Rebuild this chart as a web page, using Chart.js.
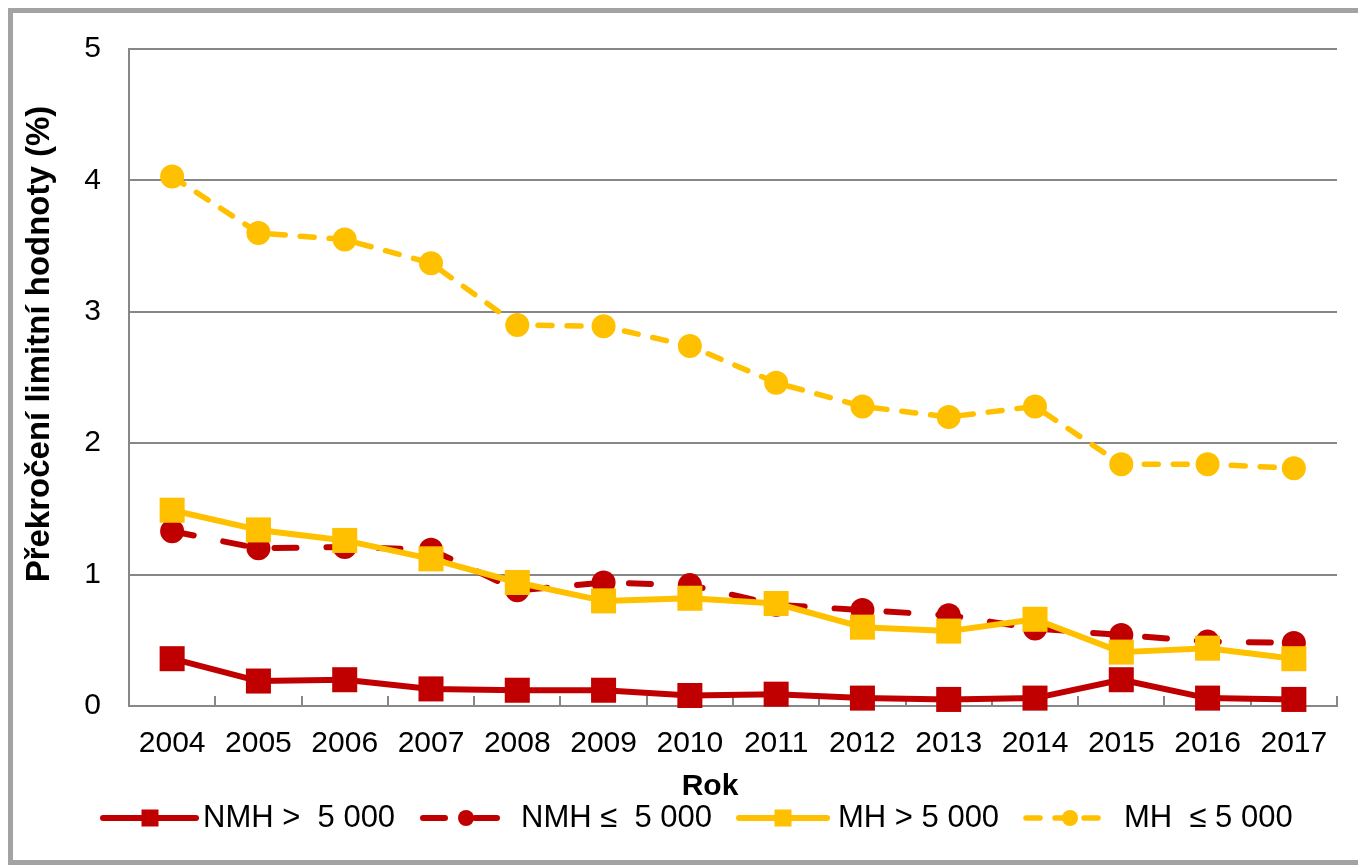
<!DOCTYPE html>
<html>
<head>
<meta charset="utf-8">
<script src="https://cdn.jsdelivr.net/npm/chart.js@4.4.0/dist/chart.umd.min.js"></script>
<style>
html,body{margin:0;padding:0;background:#fff;overflow:hidden}
#wrap{position:absolute;left:0;top:0;width:1358px;height:865px}
#frame{position:absolute;left:8px;top:8px;width:1400px;height:857px;border:5px solid #a3a3a3;border-right:none;box-sizing:border-box;pointer-events:none}
canvas{position:absolute;left:0;top:0}
</style>
</head>
<body>
<div id="wrap"><canvas id="c" width="1358" height="865"></canvas><div id="frame"></div></div>
<script>
const years = ['2004','2005','2006','2007','2008','2009','2010','2011','2012','2013','2014','2015','2016','2017'];
const nmhOver  = [0.36,0.19,0.20,0.13,0.12,0.12,0.08,0.09,0.06,0.05,0.06,0.20,0.06,0.05];
const nmhUnder = [1.33,1.20,1.21,1.19,0.88,0.94,0.92,0.77,0.73,0.69,0.59,0.54,0.49,0.48];
const mhOver   = [1.49,1.34,1.26,1.12,0.94,0.80,0.82,0.78,0.60,0.57,0.66,0.41,0.44,0.36];
const mhUnder  = [4.03,3.60,3.55,3.37,2.90,2.89,2.74,2.46,2.28,2.20,2.28,1.84,1.84,1.81];
const yTicks = [0,1,2,3,4,5];
const seriesNames = ['NMH >  5 000','NMH \u2264  5 000','MH > 5 000','MH  \u2264 5 000'];
const yTitle = 'Překročení limitní hodnoty (%)';
const xTitle = 'Rok';

const RED = '#C00000', YEL = '#FFC000', GRID = '#878787';
const FONT = '"Liberation Sans", Arial, sans-serif';

function ds(label, data, color, dashed, style, order) {
  return {
    label, data,
    borderColor: color, backgroundColor: color,
    pointBackgroundColor: color, pointBorderColor: color,
    borderWidth: dashed && color === YEL ? 5.5 : 6,
    borderDash: dashed ? (color === YEL ? [14, 15] : [22, 30]) : [],
    borderCapStyle: 'round', borderJoinStyle: 'round',
    pointStyle: style,
    pointRadius: style === 'rect' ? 17.7 : 12,
    pointHoverRadius: style === 'rect' ? 17.7 : 12,
    pointBorderWidth: 0,
    tension: 0, fill: false, clip: false, order
  };
}

const legendLayout = [
  {x0:103, x1:196, mx:150, tx:203},
  {x0:423, x1:498, mx:466, tx:521},
  {x0:739, x1:827, mx:783, tx:838},
  {x0:1026, x1:1101, mx:1070, tx:1124}
];

const overlay = {
  id: 'overlay',
  afterDraw(chart) {
    const ctx = chart.ctx;
    ctx.save();
    ctx.fillStyle = '#000';
    ctx.textAlign = 'center';
    ctx.textBaseline = 'middle';
    // y title
    ctx.save();
    ctx.translate(40, 344);
    ctx.rotate(-Math.PI / 2);
    ctx.font = 'bold 33px ' + FONT;
    ctx.fillText(yTitle, 0, 0);
    ctx.restore();
    // x title
    ctx.font = 'bold 30px ' + FONT;
    ctx.fillText(xTitle, 710, 787);
    // legend
    const ly = 818;
    chart.data.datasets.forEach((d, i) => {
      const L = legendLayout[i];
      ctx.save();
      ctx.strokeStyle = d.borderColor;
      ctx.lineWidth = d.borderWidth;
      ctx.lineCap = 'round';
      ctx.setLineDash(d.borderDash);
      ctx.beginPath();
      ctx.moveTo(L.x0, ly); ctx.lineTo(L.x1, ly);
      ctx.stroke();
      ctx.setLineDash([]);
      ctx.fillStyle = d.borderColor;
      if (d.pointStyle === 'rect') {
        ctx.fillRect(L.mx - 8.5, ly - 8.5, 17, 17);
      } else {
        ctx.beginPath(); ctx.arc(L.mx, ly, 8, 0, Math.PI * 2); ctx.fill();
      }
      ctx.restore();
      ctx.font = '31px ' + FONT;
      ctx.textAlign = 'left';
      ctx.fillStyle = '#000';
      ctx.fillText(d.label, L.tx, ly);
    });
    ctx.restore();
  }
};

new Chart(document.getElementById('c'), {
  type: 'line',
  data: {
    labels: years,
    datasets: [
      ds(seriesNames[0], nmhOver, RED, false, 'rect', 4),
      ds(seriesNames[1], nmhUnder, RED, true, 'circle', 3),
      ds(seriesNames[2], mhOver, YEL, false, 'rect', 2),
      ds(seriesNames[3], mhUnder, YEL, true, 'circle', 1)
    ]
  },
  options: {
    responsive: false, animation: false, devicePixelRatio: 1, events: [],
    layout: {padding: {left: 0, top: 49, right: 21, bottom: 49}},
    plugins: {legend: {display: false}, tooltip: {enabled: false}, title: {display: false}},
    scales: {
      x: {
        type: 'category', offset: true,
        grid: {offset: true, drawOnChartArea: false, drawTicks: true, tickLength: -10, color: GRID, lineWidth: 2},
        border: {display: true, color: GRID, width: 2},
        ticks: {color: '#000', font: {family: FONT, size: 30}, padding: 30, maxRotation: 0, autoSkip: false},
        afterFit(s) { s.height = 110; }
      },
      y: {
        min: 0, max: 5,
        afterBuildTicks(s) { s.ticks = yTicks.map(v => ({value: v})); },
        grid: {color: GRID, lineWidth: 2, drawTicks: false},
        border: {display: true, color: GRID, width: 2},
        ticks: {color: '#000', font: {family: FONT, size: 30}, padding: 28},
        afterFit(s) { s.width = 129; }
      }
    }
  },
  plugins: [overlay]
});
</script>
</body>
</html>
